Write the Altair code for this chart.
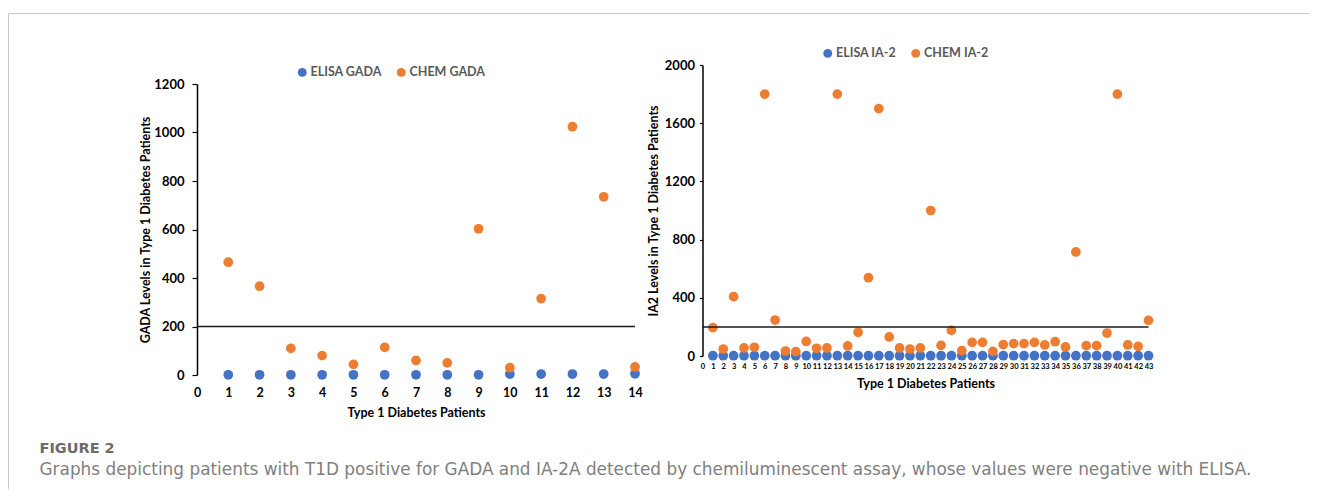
import altair as alt
import pandas as pd

# ---------------- data ----------------
gada_patients = list(range(1, 15))
gada_elisa = [1, 1, 1, 1, 1, 1, 1, 1, 1, 4, 4, 4, 4, 5]
gada_chem = [465, 366, 110, 80, 44, 114, 60, 50, 603, 30, 315, 1024, 735, 33]
gada_series = ["ELISA GADA", "CHEM GADA"]

ia2_patients = list(range(1, 44))
ia2_elisa = [2, 2, 2, 2, 2, 2, 2, 2, 2, 2, 2, 2, 2, 2, 2, 2, 2, 2, 2, 2, 2, 2,
             2, 2, 2, 2, 2, 2, 2, 2, 2, 2, 2, 2, 2, 2, 2, 2, 2, 2, 2, 2, 2]
ia2_chem = [195, 48, 408, 55, 60, 1800, 247, 34, 30, 100, 53, 55, 1800, 69, 163,
            538, 1700, 131, 55, 48, 55, 1000, 73, 176, 37, 94, 94, 32, 78, 85,
            85, 94, 76, 98, 62, 715, 71, 71, 158, 1800, 76, 66, 245]
ia2_series = ["ELISA IA-2", "CHEM IA-2"]

threshold = 200
gada_xticks = list(range(0, 15))
gada_yticks = [0, 200, 400, 600, 800, 1000, 1200]
ia2_xticks = list(range(0, 44))
ia2_yticks = [0, 400, 800, 1200, 1600, 2000]

x_title = "Type 1 Diabetes Patients"
gada_ytitle = "GADA Levels in Type 1 Diabetes Patients"
ia2_ytitle = "IA2 Levels in Type 1 Diabetes Patients"
fig_label = "FIGURE 2"
fig_caption = ("Graphs depicting patients with T1D positive for GADA and IA-2A detected by "
               "chemiluminescent assay, whose values were negative with ELISA.")

BLUE = "#4472C4"
ORANGE = "#ED7D31"
FONT = "Lato"

left_df = pd.DataFrame({
    "patient": gada_patients + gada_patients,
    "value": gada_elisa + gada_chem,
    "series": [gada_series[0]] * len(gada_patients) + [gada_series[1]] * len(gada_patients),
})
right_df = pd.DataFrame({
    "patient": ia2_patients + ia2_patients,
    "value": ia2_elisa + ia2_chem,
    "series": [ia2_series[0]] * len(ia2_patients) + [ia2_series[1]] * len(ia2_patients),
})
left_thr = pd.DataFrame({"x0": [gada_xticks[0]], "x1": [gada_xticks[-1]], "y": [threshold]})
right_thr = pd.DataFrame({"x0": [ia2_xticks[0]], "x1": [ia2_xticks[-1]], "y": [threshold]})
cap_df = pd.DataFrame({"label": [fig_label], "caption": [fig_caption]})


def x_axis(values, size, pad, tpad):
    return alt.Axis(values=values, ticks=False, domain=False, grid=False, format="d",
                    labelPadding=pad, labelFontSize=size, labelFont=FONT,
                    labelFontWeight="bold", labelColor="black", labelOverlap=False,
                    labelFlush=False, labelSeparation=0, title=x_title, titleFont=FONT,
                    titleFontSize=12.5, titleFontWeight="bold", titleColor="black",
                    titlePadding=tpad)


def y_axis(values, title, tsize, lpad, tpad):
    return alt.Axis(values=values, grid=False, tickSize=tsize, labelPadding=lpad,
                    format="d", domainColor="black", tickColor="black", domainWidth=1.5,
                    tickWidth=1.2, labelFont=FONT, labelFontWeight="bold",
                    labelFontSize=13, labelColor="black", labelOverlap=False,
                    title=title, titleFont=FONT, titleFontSize=12.5,
                    titleFontWeight="bold", titleColor="black", titlePadding=tpad)


def legend(lx, ly):
    return alt.Legend(orient="none", legendX=lx, legendY=ly, direction="horizontal",
                      title=None, symbolType="circle", symbolSize=80,
                      symbolStrokeWidth=0, symbolOpacity=1, labelFont=FONT,
                      labelFontWeight="bold", labelFontSize=12.5, labelColor="#595959",
                      columnPadding=13, labelOffset=2, padding=0)


# ---------------- left panel ----------------
lx_scale = alt.Scale(domain=[0, 14], nice=False, zero=False)
ly_scale = alt.Scale(domain=[0, 1200], range=[310, 19], nice=False)
lx_axis = x_axis(gada_xticks, 12.5, 11, 8)
ly_axis = y_axis(gada_yticks, gada_ytitle, 5, 8, 1)

left_points = alt.Chart(left_df).mark_circle(size=95, opacity=1).encode(
    x=alt.X("patient:Q", scale=lx_scale, axis=lx_axis),
    y=alt.Y("value:Q", scale=ly_scale, axis=ly_axis),
    color=alt.Color("series:N", scale=alt.Scale(domain=gada_series, range=[BLUE, ORANGE]),
                    legend=legend(99, 1)),
    order=alt.Order("series:N", sort="descending"),
)
left_rule = alt.Chart(left_thr).mark_rule(color="#1a1a1a", strokeWidth=1.5).encode(
    x=alt.X("x0:Q", scale=lx_scale, axis=lx_axis), x2="x1:Q",
    y=alt.Y("y:Q", scale=ly_scale, axis=ly_axis))

frame_v = alt.Chart(cap_df).mark_rule(color="#c9c9c9", strokeWidth=1).encode(
    x=alt.value(-188.5), y=alt.value(-51.5), y2=alt.value(424))
frame_h = alt.Chart(cap_df).mark_rule(color="#c9c9c9", strokeWidth=1).encode(
    x=alt.value(-188.5), x2=alt.value(1112), y=alt.value(-51.5))
label_txt = alt.Chart(cap_df).mark_text(
    align="left", baseline="alphabetic", font="DejaVu Sans", fontSize=14.5,
    fontWeight="bold", color="#6b6b6b").encode(
    text="label:N", x=alt.value(-157.5), y=alt.value(388))
caption_txt = alt.Chart(cap_df).mark_text(
    align="left", baseline="alphabetic", font="DejaVu Sans", fontSize=16.9,
    color="#808080").encode(
    text="caption:N", x=alt.value(-157.5), y=alt.value(410))

left = alt.layer(left_points, left_rule, frame_v, frame_h, label_txt, caption_txt).properties(
    width=438, height=310)

# ---------------- right panel ----------------
rx_scale = alt.Scale(domain=[0, 43], nice=False, zero=False)
ry_scale = alt.Scale(domain=[0, 2000], nice=False)
rx_axis = x_axis(ia2_xticks, 7.5, 6, 8)
ry_axis = y_axis(ia2_yticks, ia2_ytitle, 3, 5, 4)

right_points = alt.Chart(right_df).mark_circle(size=95, opacity=1).encode(
    x=alt.X("patient:Q", scale=rx_scale, axis=rx_axis),
    y=alt.Y("value:Q", scale=ry_scale, axis=ry_axis),
    color=alt.Color("series:N", scale=alt.Scale(domain=ia2_series, range=[BLUE, ORANGE]),
                    legend=legend(119, -18)),
    order=alt.Order("series:N", sort="descending"),
)
right_rule = alt.Chart(right_thr).mark_rule(color="#1a1a1a", strokeWidth=1.5).encode(
    x=alt.X("x0:Q", scale=rx_scale, axis=rx_axis), x2="x1:Q",
    y=alt.Y("y:Q", scale=ry_scale, axis=ry_axis))

right = alt.layer(right_points, right_rule).properties(width=446, height=291)

chart = alt.hconcat(left, right, spacing=67.5, bounds="flush").resolve_scale(
    color="independent").properties(
    padding={"left": 0, "top": 5, "right": 0, "bottom": 0},
    background="white",
).configure_view(stroke=None).configure_axis(labelOverlap=False)

chart.save("out.html", embed_options={"renderer": "svg", "actions": False})
